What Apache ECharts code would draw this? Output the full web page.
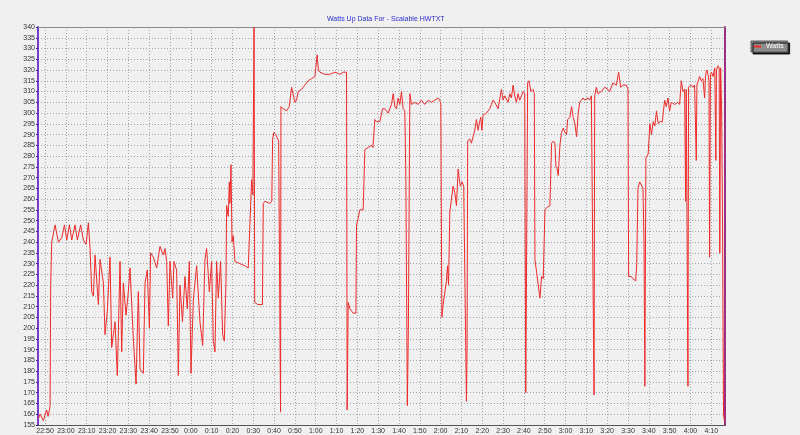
<!DOCTYPE html>
<html><head><meta charset="utf-8">
<script src="https://cdn.jsdelivr.net/npm/echarts@6/dist/echarts.min.js"></script>
<style>html,body{margin:0;padding:0;background:#f0f0f0;}#c{width:800px;height:435px;}</style>
</head><body><div id="c"></div>
<script>
// minutes after 22:50
const minutes = [
-3.2,-2.4,-1.6,-0.8,0,0.8,1.4,2.1,2.4,2.7,
3.2,4.0,4.8,5.3,6.4,8.0,9.3,10.4,11.7,12.8,
14.4,15.5,17.1,18.4,19.7,20.8,21.6,22.4,23.2,24.0,
25.6,26.4,28.0,28.8,29.9,31.2,32.0,33.6,34.7,36.0,
36.8,37.6,38.9,40.0,40.8,42.4,43.7,44.8,45.6,47.2,
48.0,49.1,50.1,50.7,52.0,53.6,55.2,56.8,57.6,58.4,
59.2,60.0,61.3,61.9,63.2,64.0,64.8,66.0,67.2,68.3,
69.3,70.1,71.2,72.8,74.4,75.7,76.8,77.6,78.9,80.0,
80.8,81.6,82.4,83.2,84.3,85.3,86.1,86.9,87.2,88.0,
88.5,88.8,89.3,89.8,90.4,91.2,93.6,96.0,97.6,99.2,
99.8,100.4,100.7,102.2,104.4,104.8,105.6,108.0,108.9,109.3,
109.9,110.8,112.2,112.8,113.1,113.3,114.3,116.0,117.3,118.4,
119.2,120.0,120.8,121.6,123.2,124.8,126.4,128.0,129.6,130.7,
131.3,132.0,134.4,136.8,139.2,141.6,143.2,144.8,145.1,145.6,
146.4,148.0,149.3,149.6,150.4,151.2,152.8,153.6,155.2,156.8,
157.5,158.4,159.2,160.8,162.1,163.2,164.8,166.4,167.2,168.0,
168.8,169.6,170.4,171.2,172.0,172.8,173.3,174.0,174.5,175.2,
176.0,177.6,179.2,180.8,182.4,184.0,185.6,187.2,188.8,189.6,
190.1,190.6,191.2,192.0,192.8,193.3,193.8,194.4,195.2,196.0,
196.8,197.6,198.4,198.9,199.5,200.3,201.1,201.9,202.4,202.7,
203.0,204.0,204.8,205.6,206.4,207.2,208.0,208.5,209.3,209.8,
210.4,211.2,212.0,212.8,213.6,214.4,215.2,216.0,217.6,219.2,
220.0,220.8,222.4,223.2,224.0,224.8,225.6,226.4,227.2,228.0,
228.8,229.6,230.4,230.9,231.8,232.4,233.4,234.5,235.0,235.3,
236.1,236.9,237.7,238.5,239.3,240.1,240.9,242.5,243.3,244.1,
244.9,245.4,246.0,246.5,246.9,247.3,248.1,248.9,249.7,250.5,
251.0,252.1,252.9,253.7,254.5,255.3,256.1,256.8,257.6,258.4,
259.2,260.8,261.6,262.4,263.2,263.7,264.0,264.8,265.6,267.2,
268.0,268.8,270.4,271.2,272.8,274.4,275.5,276.5,277.6,279.2,
280.0,280.3,281.6,282.4,283.7,284.2,284.8,285.6,286.4,287.2,
287.7,288.1,288.6,289.7,290.5,291.3,292.1,292.9,293.7,294.5,
295.3,296.5,297.6,298.4,299.2,300.0,300.8,302.4,304.0,304.8,
305.6,306.4,307.2,307.7,308.0,308.8,309.1,310.4,311.2,312.0,
312.8,313.1,314.4,315.2,316.0,316.8,317.3,317.9,318.4,318.9,
319.2,319.6,320.1,320.9,321.7,322.2,322.5,323.3,323.8,324.1,
324.5,325.0,325.4,325.9,326.3
];
const watts = [
158,160,160,157,160,162,159,162,164,220,
240,240,248,248,240,242,248,241,248,241,
248,241,248,241,239,249,237,217,215,234,
211,232,221,197,208,233,191,203,178,231,
189,221,206,217,228,195,174,217,181,179,
221,227,200,235,233,228,238,234,237,231,
201,231,214,231,227,178,220,203,224,209,
231,179,213,229,203,192,232,237,217,231,
194,189,231,214,231,197,194,221,257,252,
268,258,276,240,243,231,230,229,228,269,
262,340,212,211,211,258,259,258,259,288,
291,290,287,287,161,303,302,301,303,312,
312,305,306,310,311,313,315,316,317,327,
320,319,318,318,319,318,319,319,162,212,
209,207,207,248,251,255,255,283,284,285,
284,297,296,296,302,302,300,304,309,303,
302,307,304,310,302,301,270,164,199,309,
304,305,304,306,304,306,305,306,307,306,
304,205,211,211,222,229,220,254,260,266,
263,257,274,270,266,268,266,266,166,192,
287,288,286,289,292,297,292,295,298,292,
299,299,300,301,302,304,306,305,302,311,
306,308,305,309,307,313,308,305,309,306,
308,310,309,170,314,315,310,311,309,232,
226,226,214,224,223,255,256,257,286,287,
286,275,274,271,278,285,291,293,291,290,
297,298,303,298,295,289,300,305,305,307,
306,307,306,308,308,169,308,312,309,310,
311,312,311,310,314,313,319,312,313,313,
311,224,224,223,222,230,265,268,268,265,
240,173,279,281,295,290,296,294,301,295,
296,296,306,303,307,301,305,304,305,304,
315,310,311,259,311,173,312,313,312,313,
278,313,317,315,316,307,318,320,318,315,
233,318,319,317,321,278,320,322,321,235,
321,300,250,160,157
];
const startClock = 22 * 60 + 50; // 22:50 in minutes
const xRange = [-3.4, 326.6];     // minutes after 22:50 at plot edges
const yRange = [155, 340];
const yStep = 5;
const xStep = 10;
const seriesName = 'Watts';
const titleText = 'Watts Up Data For - Scalable HWTXT';

const data = minutes.map((m, i) => [startClock + m, watts[i]]);
function clock(v) {
  const t = ((Math.round(v) % 1440) + 1440) % 1440;
  const h = Math.floor(t / 60), mm = t % 60;
  return h + ':' + String(mm).padStart(2, '0');
}
const FONT = 'Liberation Sans';
const chart = echarts.init(document.getElementById('c'), null, {renderer: 'canvas'});
chart.setOption({
  backgroundColor: '#f0f0f0',
  animation: false,
  textStyle: {fontFamily: FONT},
  title: {
    text: titleText, left: 327, top: 16, padding: 0,
    textStyle: {color: '#2b2bd0', fontSize: 7, fontWeight: 'normal', fontFamily: FONT}
  },
  legend: {
    data: [seriesName], left: 751, top: 41, padding: [2, 4, 2, 3],
    backgroundColor: '#8c8c8c', borderColor: '#5a5a5a', borderWidth: 1,
    shadowColor: 'rgba(0,0,0,0.85)', shadowOffsetX: 2, shadowOffsetY: 2, shadowBlur: 0,
    icon: 'rect', itemWidth: 7, itemHeight: 2, itemGap: 2,
    textStyle: {color: '#ffffff', fontSize: 7, fontFamily: FONT}
  },
  grid: {left: 38, right: 75, top: 27, bottom: 8, containLabel: false},
  xAxis: [{
    type: 'value', min: startClock + xRange[0], max: startClock + xRange[1],
    minInterval: xStep, maxInterval: xStep, splitNumber: 33,
    axisLine: {show: true, lineStyle: {color: '#555', width: 1}},
    axisTick: {show: false},
    axisLabel: {formatter: clock, fontSize: 7, color: '#333', margin: 3, showMinLabel: false, showMaxLabel: false},
    splitLine: {show: true, lineStyle: {color: '#a6a6a6', type: [1, 2], width: 1}}
  }, {
    type: 'value', position: 'top', min: startClock + xRange[0], max: startClock + xRange[1],
    axisLine: {show: true, lineStyle: {color: '#8a8a8a', width: 1}},
    axisTick: {show: false}, axisLabel: {show: false}, splitLine: {show: false}
  }],
  yAxis: [{
    type: 'value', min: yRange[0], max: yRange[1], interval: yStep,
    axisLine: {show: true, lineStyle: {color: '#7a3cc8', width: 2}},
    axisTick: {show: true, length: 2, lineStyle: {color: '#2a2aa8'}},
    axisLabel: {fontSize: 7, color: '#333', margin: 3},
    splitLine: {show: true, lineStyle: {color: '#a6a6a6', type: [1, 2], width: 1}}
  }, {
    type: 'value', position: 'right', min: yRange[0], max: yRange[1],
    axisLine: {show: true, lineStyle: {color: '#9b2f86', width: 2}},
    axisTick: {show: false}, axisLabel: {show: false}, splitLine: {show: false}
  }],
  series: [{
    name: seriesName, type: 'line', data: data, xAxisIndex: 0, yAxisIndex: 0,
    showSymbol: false, symbol: 'none', clip: true,
    lineStyle: {color: '#ee2a2a', width: 1}, itemStyle: {color: '#ee2a2a'}
  }]
});
</script>
</body></html>
